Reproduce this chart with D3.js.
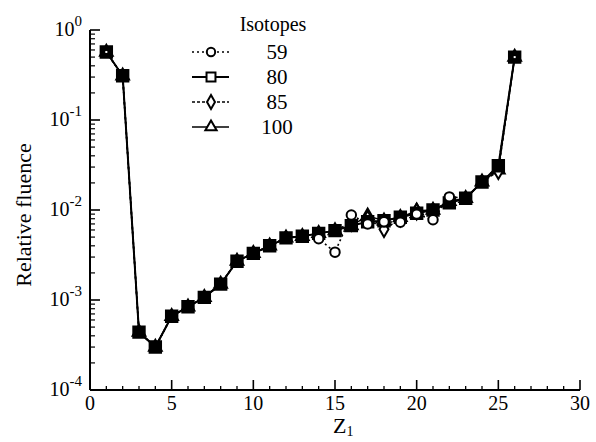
<!DOCTYPE html>
<html>
<head>
<meta charset="utf-8">
<script src="https://cdn.jsdelivr.net/npm/d3@7/dist/d3.min.js"></script>
<style>
  html, body { margin: 0; padding: 0; background: #fff; }
  svg { display: block; }
  text { font-family: "Liberation Serif", "Times New Roman", serif; fill: #000; }
</style>
</head>
<body>
<svg id="chart" width="596" height="442"></svg>
<script>
// ---- Data ----
const Z = [1,2,3,4,5,6,7,8,9,10,11,12,13,14,15,16,17,18,19,20,21,22,23,24,25,26];
const iso80  = [0.57,0.31,4.4e-4,3.0e-4,6.6e-4,8.4e-4,1.07e-3,1.5e-3,2.7e-3,3.3e-3,4.0e-3,4.9e-3,5.1e-3,5.5e-3,5.9e-3,6.7e-3,7.4e-3,7.6e-3,8.3e-3,9.2e-3,1.0e-2,1.2e-2,1.35e-2,2.05e-2,3.1e-2,0.5];
const iso59  = [0.57,0.31,4.4e-4,3.0e-4,6.6e-4,8.4e-4,1.07e-3,1.5e-3,2.7e-3,3.3e-3,4.0e-3,4.9e-3,5.1e-3,4.8e-3,3.4e-3,8.8e-3,7.0e-3,7.4e-3,7.3e-3,9.0e-3,7.8e-3,1.4e-2,1.35e-2,2.05e-2,3.1e-2,0.5];
const iso85  = [0.57,0.31,4.4e-4,3.0e-4,6.6e-4,8.4e-4,1.07e-3,1.5e-3,2.7e-3,3.3e-3,4.0e-3,4.9e-3,5.1e-3,5.5e-3,5.9e-3,7.2e-3,8.0e-3,6.1e-3,8.0e-3,9.6e-3,1.0e-2,1.2e-2,1.35e-2,2.05e-2,2.7e-2,0.5];
const iso100 = [0.57,0.31,4.4e-4,3.0e-4,6.6e-4,8.4e-4,1.07e-3,1.5e-3,2.7e-3,3.3e-3,4.0e-3,4.9e-3,5.1e-3,5.5e-3,5.9e-3,6.7e-3,8.6e-3,7.6e-3,8.3e-3,9.8e-3,1.0e-2,1.25e-2,1.35e-2,2.05e-2,2.8e-2,0.5];
const seriesNames = ["59","80","85","100"];
const xTicks = [0,5,10,15,20,25,30];
const yExps = [0,-1,-2,-3,-4];

// ---- Layout ----
const svg = d3.select("#chart");
const x = d3.scaleLinear().domain([0,30]).range([90,580]);
const y = d3.scaleLog().domain([1e-4,1]).range([390,30]);

// ---- Axes ----
const g = svg.append("g");
g.append("line").attr("x1",90).attr("x2",90).attr("y1",y(1)).attr("y2",y(1e-4)).attr("stroke","#000").attr("stroke-width",2);
g.append("line").attr("x1",90).attr("x2",x(30)).attr("y1",390).attr("y2",390).attr("stroke","#000").attr("stroke-width",2);

// x ticks (inward)
d3.range(0,31).forEach(v=>{
  const major = v%5===0;
  g.append("line").attr("x1",x(v)).attr("x2",x(v)).attr("y1",390).attr("y2",390-(major?10:4))
    .attr("stroke","#000").attr("stroke-width",major?1.6:1.3);
});
xTicks.forEach(v=>{
  g.append("text").attr("x",x(v)).attr("y",410).attr("text-anchor","middle").attr("font-size",20).text(v);
});

// y ticks
yExps.forEach(e=>{
  const v = Math.pow(10,e);
  g.append("line").attr("x1",90).attr("x2",100).attr("y1",y(v)).attr("y2",y(v)).attr("stroke","#000").attr("stroke-width",1.6);
  if (e>-4) {
    for (let k=2;k<=9;k++){
      const mv = k*Math.pow(10,e-1);
      g.append("line").attr("x1",90).attr("x2",95).attr("y1",y(mv)).attr("y2",y(mv)).attr("stroke","#000").attr("stroke-width",1.2);
    }
  }
  const t = g.append("text").attr("x",82).attr("y",y(v)+6).attr("text-anchor","end").attr("font-size",20);
  t.append("tspan").text("10");
  t.append("tspan").attr("dy",-10).attr("font-size",15).text(e===0?"0":String(e));
});

// axis titles
svg.append("text").attr("transform","translate(31,215) rotate(-90)").attr("text-anchor","middle")
  .attr("font-size",22).text("Relative fluence");
const zt = svg.append("text").attr("x",333).attr("y",433).attr("font-size",22);
zt.append("tspan").text("Z");
zt.append("tspan").attr("dy",3).attr("font-size",14).text("1");

// ---- Series ----
const line = d3.line().x((d,i)=>x(Z[i])).y(d=>y(d));
const styles = {
  "59":  {data: iso59,  dash:"2,3", width:1.6, shape:d3.symbolCircle,  size:70, fill:"#fff"},
  "85":  {data: iso85,  dash:"3,2", width:1.6, shape:d3.symbolDiamond, size:70, fill:"#fff"},
  "100": {data: iso100, dash:null,  width:1.4, shape:d3.symbolTriangle,size:70, fill:"#000"},
  "80":  {data: iso80,  dash:null,  width:2,   shape:d3.symbolSquare,  size:130, fill:"#000"}
};
["59","85","100","80"].forEach(name=>{
  const s = styles[name];
  svg.append("path").datum(s.data).attr("d",line).attr("fill","none").attr("stroke","#000")
    .attr("stroke-width",s.width).attr("stroke-dasharray",s.dash);
});
["100","85","80","59"].forEach(name=>{
  const s = styles[name];
  const sym = d3.symbol().type(s.shape).size(s.size);
  svg.append("g").selectAll("path").data(s.data).join("path")
    .attr("transform",(d,i)=>`translate(${x(Z[i])},${y(d)})`)
    .attr("d",sym).attr("fill",s.fill).attr("stroke","#000").attr("stroke-width",2)
    .attr("opacity",(d,i)=> (name==="59" && d===iso80[i]) || (name==="85" && d===iso80[i]) ? 0 : 1);
});
// small white centres on end squares
[0,25].forEach(i=>{
  svg.append("rect").attr("x",x(Z[i])-1).attr("y",y(iso80[i])-1).attr("width",2).attr("height",2).attr("fill","#fff");
});

// ---- Legend ----
const lg = svg.append("g");
lg.append("text").attr("x",273).attr("y",31).attr("text-anchor","middle").attr("font-size",20).text("Isotopes");
seriesNames.forEach((name,i)=>{
  const s = styles[name];
  const cy = 52 + i*25;
  lg.append("line").attr("x1",192).attr("x2",229).attr("y1",cy).attr("y2",cy).attr("stroke","#000")
    .attr("stroke-width",s.width).attr("stroke-dasharray",s.dash);
  lg.append("path").attr("transform",`translate(211,${cy})`)
    .attr("d",d3.symbol().type(s.shape).size(name==="80"?80:55)).attr("fill","#fff").attr("stroke","#000").attr("stroke-width",2);
  lg.append("text").attr("x",277).attr("y",cy+7).attr("text-anchor","middle").attr("font-size",21).text(name);
});
</script>
</body>
</html>
